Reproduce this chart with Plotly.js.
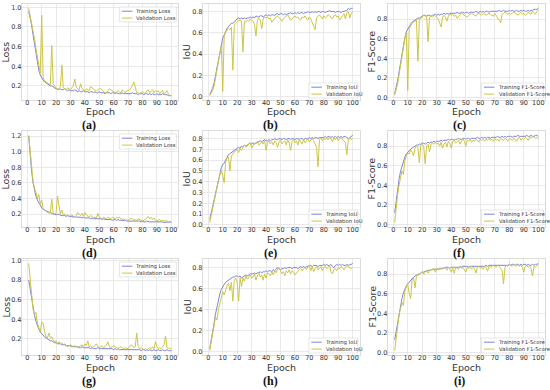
<!DOCTYPE html>
<html>
<head>
<meta charset="utf-8">
<script src="https://cdn.plot.ly/plotly-3.0.1.min.js"></script>
<style>html,body{margin:0;padding:0;background:#fff;}#chart{width:550px;height:390px;}</style>
</head>
<body>
<div id="chart"></div>
<script>
// ---------- DATA ----------
const epochs = Array.from({length: 100}, (_, i) => i + 1);
const xTicks = [0,10,20,30,40,50,60,70,80,90,100];
const panelLabels = ["(a)","(b)","(c)","(d)","(e)","(f)","(g)","(h)","(i)"];
const metricNames = ["Loss","IoU","F1-Score"];
const xTitle = "Epoch";

const lossA_train = [0.96,0.90,0.82,0.72,0.62,0.52,0.43,0.36,0.31,0.28,
 0.26,0.24,0.23,0.22,0.21,0.20,0.20,0.19,0.18,0.17,
 0.17,0.16,0.17,0.16,0.16,0.17,0.16,0.15,0.16,0.15,
 0.15,0.15,0.16,0.15,0.14,0.15,0.14,0.14,0.15,0.14,
 0.14,0.14,0.13,0.14,0.14,0.13,0.14,0.13,0.13,0.14,
 0.13,0.13,0.13,0.12,0.13,0.13,0.13,0.12,0.13,0.13,
 0.12,0.13,0.12,0.12,0.12,0.13,0.12,0.12,0.12,0.12,
 0.12,0.12,0.13,0.12,0.12,0.12,0.11,0.12,0.12,0.12,
 0.11,0.12,0.12,0.11,0.12,0.11,0.12,0.11,0.11,0.12,
 0.11,0.11,0.11,0.12,0.11,0.11,0.11,0.10,0.10,0.10];
const lossA_val = [0.99,0.92,0.85,0.78,0.68,0.58,0.48,0.40,0.33,0.92,
 0.28,0.25,0.24,0.23,0.22,0.21,0.61,0.22,0.20,0.18,
 0.16,0.17,0.19,0.41,0.18,0.17,0.16,0.18,0.17,0.16,
 0.18,0.20,0.27,0.19,0.17,0.16,0.22,0.17,0.16,0.15,
 0.17,0.16,0.15,0.19,0.18,0.17,0.15,0.15,0.16,0.17,
 0.17,0.16,0.14,0.13,0.13,0.15,0.17,0.16,0.15,0.14,
 0.13,0.14,0.15,0.14,0.13,0.16,0.14,0.13,0.15,0.15,
 0.16,0.18,0.20,0.24,0.18,0.13,0.13,0.12,0.13,0.14,
 0.13,0.12,0.15,0.16,0.13,0.14,0.16,0.13,0.15,0.14,
 0.15,0.12,0.14,0.15,0.11,0.13,0.15,0.12,0.10,0.10];

const iouB_train = [0.02,0.05,0.08,0.13,0.20,0.28,0.36,0.43,0.49,0.55,
 0.58,0.62,0.64,0.66,0.68,0.69,0.69,0.70,0.72,0.73,
 0.74,0.73,0.74,0.73,0.74,0.73,0.74,0.74,0.75,0.74,
 0.75,0.74,0.76,0.75,0.75,0.76,0.76,0.75,0.76,0.77,
 0.76,0.77,0.76,0.77,0.77,0.76,0.78,0.78,0.77,0.78,
 0.78,0.77,0.78,0.77,0.78,0.78,0.79,0.78,0.78,0.79,
 0.78,0.79,0.78,0.79,0.79,0.78,0.79,0.79,0.80,0.79,
 0.79,0.80,0.79,0.80,0.79,0.80,0.80,0.79,0.80,0.80,
 0.79,0.80,0.80,0.81,0.80,0.80,0.80,0.79,0.80,0.80,
 0.80,0.79,0.80,0.80,0.81,0.81,0.83,0.82,0.83,0.83];
const iouB_val = [0.01,0.03,0.06,0.10,0.18,0.26,0.34,0.41,0.48,0.05,
 0.57,0.61,0.63,0.64,0.63,0.65,0.25,0.67,0.69,0.71,
 0.72,0.72,0.71,0.42,0.71,0.70,0.72,0.71,0.73,0.72,
 0.71,0.68,0.57,0.72,0.74,0.72,0.64,0.73,0.75,0.74,
 0.75,0.73,0.74,0.70,0.72,0.74,0.75,0.76,0.74,0.72,
 0.71,0.73,0.75,0.76,0.77,0.74,0.72,0.73,0.75,0.76,
 0.74,0.75,0.73,0.72,0.75,0.74,0.76,0.73,0.72,0.75,
 0.73,0.70,0.66,0.63,0.74,0.76,0.77,0.75,0.73,0.76,
 0.74,0.75,0.77,0.76,0.74,0.73,0.76,0.77,0.75,0.76,
 0.72,0.74,0.76,0.78,0.73,0.79,0.80,0.74,0.78,0.80];

const f1C_train = [0.04,0.10,0.17,0.26,0.35,0.45,0.54,0.61,0.67,0.70,
 0.72,0.75,0.77,0.78,0.79,0.80,0.81,0.81,0.82,0.83,
 0.84,0.84,0.83,0.84,0.84,0.83,0.84,0.84,0.85,0.84,
 0.85,0.84,0.85,0.85,0.86,0.85,0.86,0.85,0.86,0.86,
 0.86,0.86,0.86,0.87,0.86,0.86,0.87,0.87,0.86,0.87,
 0.87,0.86,0.87,0.87,0.87,0.87,0.88,0.87,0.87,0.88,
 0.87,0.88,0.87,0.88,0.88,0.87,0.88,0.88,0.88,0.88,
 0.88,0.88,0.89,0.88,0.88,0.89,0.88,0.88,0.88,0.89,
 0.88,0.89,0.88,0.88,0.89,0.88,0.88,0.89,0.88,0.89,
 0.88,0.88,0.89,0.88,0.89,0.89,0.90,0.90,0.90,0.91];
const f1C_val = [0.02,0.07,0.14,0.23,0.33,0.43,0.52,0.60,0.66,0.07,
 0.70,0.74,0.76,0.77,0.78,0.79,0.37,0.80,0.81,0.82,
 0.84,0.83,0.83,0.57,0.82,0.83,0.82,0.84,0.83,0.82,
 0.80,0.76,0.72,0.82,0.84,0.82,0.78,0.83,0.85,0.84,
 0.85,0.83,0.84,0.81,0.83,0.84,0.86,0.85,0.84,0.83,
 0.82,0.84,0.85,0.86,0.85,0.84,0.83,0.85,0.86,0.85,
 0.84,0.86,0.85,0.84,0.85,0.86,0.85,0.84,0.83,0.86,
 0.84,0.82,0.79,0.76,0.85,0.86,0.87,0.86,0.85,0.86,
 0.85,0.86,0.87,0.86,0.85,0.84,0.86,0.87,0.85,0.86,
 0.84,0.85,0.87,0.86,0.85,0.88,0.87,0.85,0.88,0.89];

const lossD_train = [1.20,0.95,0.75,0.60,0.50,0.43,0.38,0.34,0.31,0.28,
 0.26,0.25,0.24,0.23,0.22,0.21,0.21,0.20,0.20,0.19,
 0.20,0.19,0.19,0.18,0.18,0.18,0.17,0.18,0.17,0.17,
 0.17,0.16,0.17,0.16,0.16,0.16,0.16,0.15,0.16,0.15,
 0.15,0.15,0.15,0.14,0.15,0.14,0.14,0.14,0.14,0.14,
 0.14,0.13,0.14,0.13,0.13,0.13,0.13,0.13,0.12,0.13,
 0.13,0.12,0.13,0.12,0.12,0.12,0.12,0.12,0.11,0.11,
 0.11,0.11,0.11,0.11,0.11,0.11,0.11,0.11,0.10,0.11,
 0.10,0.10,0.11,0.10,0.10,0.10,0.10,0.10,0.10,0.10,
 0.10,0.10,0.10,0.10,0.09,0.10,0.10,0.09,0.10,0.09];
const lossD_val = [1.21,0.98,0.78,0.62,0.53,0.48,0.40,0.45,0.33,0.38,
 0.27,0.25,0.24,0.22,0.21,0.22,0.39,0.21,0.20,0.22,
 0.43,0.28,0.20,0.25,0.19,0.20,0.18,0.19,0.17,0.18,
 0.19,0.17,0.16,0.18,0.22,0.20,0.18,0.21,0.17,0.22,
 0.19,0.17,0.16,0.18,0.17,0.15,0.16,0.15,0.21,0.16,
 0.15,0.14,0.16,0.15,0.14,0.16,0.15,0.14,0.16,0.15,
 0.14,0.16,0.15,0.16,0.14,0.13,0.14,0.12,0.13,0.12,
 0.13,0.15,0.14,0.12,0.13,0.12,0.14,0.13,0.12,0.11,
 0.12,0.13,0.15,0.17,0.14,0.16,0.13,0.15,0.12,0.11,
 0.12,0.13,0.11,0.12,0.11,0.12,0.11,0.10,0.11,0.10];

const iouE_train = [0.05,0.11,0.17,0.24,0.31,0.38,0.44,0.49,0.53,0.56,
 0.57,0.60,0.63,0.65,0.66,0.67,0.68,0.69,0.70,0.71,
 0.72,0.71,0.73,0.72,0.74,0.73,0.74,0.75,0.76,0.75,
 0.76,0.75,0.76,0.77,0.77,0.78,0.77,0.78,0.79,0.78,
 0.78,0.79,0.78,0.79,0.79,0.80,0.79,0.79,0.80,0.80,
 0.79,0.80,0.80,0.79,0.80,0.80,0.79,0.80,0.80,0.79,
 0.80,0.80,0.79,0.80,0.80,0.79,0.80,0.80,0.80,0.81,
 0.80,0.81,0.80,0.81,0.81,0.80,0.81,0.81,0.81,0.81,
 0.82,0.81,0.82,0.82,0.81,0.82,0.81,0.82,0.81,0.82,
 0.81,0.82,0.81,0.82,0.82,0.81,0.80,0.81,0.82,0.83];
const iouE_val = [0.02,0.09,0.16,0.23,0.29,0.36,0.41,0.46,0.50,0.46,
 0.39,0.58,0.62,0.63,0.50,0.64,0.66,0.67,0.69,0.70,
 0.67,0.71,0.69,0.72,0.74,0.72,0.73,0.75,0.76,0.71,
 0.74,0.76,0.75,0.77,0.74,0.76,0.77,0.75,0.78,0.69,
 0.76,0.78,0.75,0.77,0.74,0.78,0.76,0.72,0.77,0.79,
 0.75,0.77,0.78,0.74,0.79,0.76,0.69,0.77,0.79,0.76,
 0.78,0.74,0.79,0.77,0.75,0.79,0.76,0.78,0.80,0.77,
 0.79,0.80,0.78,0.74,0.72,0.54,0.79,0.81,0.78,0.80,
 0.79,0.81,0.79,0.82,0.80,0.77,0.81,0.79,0.81,0.78,
 0.80,0.81,0.79,0.78,0.76,0.65,0.79,0.81,0.79,0.80];

const f1F_train = [0.12,0.25,0.36,0.46,0.54,0.60,0.65,0.69,0.72,0.74,
 0.76,0.77,0.78,0.79,0.80,0.81,0.81,0.82,0.82,0.83,
 0.83,0.82,0.83,0.84,0.83,0.84,0.84,0.85,0.84,0.85,
 0.85,0.85,0.86,0.85,0.86,0.86,0.86,0.87,0.86,0.87,
 0.87,0.86,0.87,0.87,0.88,0.87,0.87,0.88,0.88,0.87,
 0.88,0.88,0.87,0.88,0.88,0.88,0.88,0.89,0.88,0.88,
 0.89,0.88,0.89,0.88,0.89,0.89,0.88,0.89,0.89,0.89,
 0.89,0.90,0.89,0.89,0.90,0.89,0.90,0.89,0.90,0.90,
 0.90,0.89,0.90,0.90,0.90,0.91,0.90,0.90,0.90,0.90,
 0.90,0.91,0.90,0.90,0.91,0.90,0.90,0.91,0.91,0.90];
const f1F_val = [0.02,0.18,0.30,0.40,0.47,0.55,0.51,0.65,0.70,0.73,
 0.72,0.76,0.74,0.70,0.78,0.80,0.79,0.63,0.81,0.82,
 0.80,0.62,0.80,0.82,0.74,0.82,0.83,0.82,0.84,0.82,
 0.83,0.80,0.84,0.78,0.82,0.84,0.79,0.85,0.83,0.78,
 0.85,0.86,0.83,0.85,0.86,0.82,0.86,0.88,0.85,0.80,
 0.86,0.85,0.87,0.84,0.86,0.85,0.87,0.86,0.84,0.87,
 0.86,0.87,0.85,0.87,0.86,0.88,0.86,0.87,0.85,0.88,
 0.86,0.87,0.85,0.88,0.87,0.86,0.88,0.87,0.85,0.88,
 0.87,0.86,0.88,0.87,0.85,0.88,0.89,0.86,0.88,0.87,
 0.89,0.88,0.86,0.89,0.88,0.90,0.89,0.88,0.89,0.87];

const lossG_train = [0.80,0.70,0.60,0.52,0.44,0.38,0.33,0.30,0.27,0.25,
 0.24,0.22,0.21,0.20,0.19,0.18,0.18,0.17,0.16,0.16,
 0.15,0.15,0.15,0.14,0.14,0.14,0.13,0.13,0.13,0.13,
 0.12,0.12,0.12,0.12,0.12,0.11,0.11,0.12,0.11,0.11,
 0.11,0.11,0.11,0.10,0.11,0.10,0.10,0.10,0.11,0.10,
 0.10,0.10,0.10,0.10,0.10,0.10,0.10,0.10,0.10,0.09,
 0.10,0.09,0.10,0.09,0.09,0.09,0.09,0.09,0.09,0.09,
 0.09,0.09,0.09,0.09,0.09,0.09,0.09,0.09,0.08,0.09,
 0.09,0.08,0.09,0.08,0.09,0.08,0.08,0.09,0.08,0.08,
 0.09,0.08,0.08,0.09,0.08,0.08,0.09,0.08,0.08,0.08];
const lossG_val = [0.97,0.80,0.64,0.50,0.45,0.47,0.36,0.32,0.27,0.37,
 0.36,0.27,0.22,0.21,0.26,0.21,0.22,0.19,0.17,0.18,
 0.15,0.17,0.15,0.16,0.14,0.15,0.13,0.12,0.13,0.14,
 0.13,0.12,0.13,0.12,0.11,0.12,0.13,0.14,0.12,0.15,
 0.13,0.18,0.12,0.13,0.11,0.12,0.13,0.15,0.12,0.11,
 0.12,0.13,0.11,0.12,0.14,0.17,0.12,0.11,0.12,0.13,
 0.12,0.11,0.10,0.11,0.12,0.11,0.10,0.11,0.10,0.10,
 0.12,0.14,0.13,0.11,0.12,0.26,0.12,0.10,0.11,0.10,
 0.09,0.10,0.09,0.10,0.11,0.10,0.12,0.10,0.17,0.12,
 0.10,0.11,0.10,0.12,0.14,0.23,0.11,0.10,0.11,0.09];

const iouH_train = [0.03,0.10,0.18,0.27,0.36,0.43,0.50,0.55,0.59,0.62,
 0.64,0.66,0.67,0.68,0.69,0.70,0.71,0.71,0.72,0.72,
 0.71,0.72,0.70,0.71,0.72,0.73,0.72,0.73,0.74,0.74,
 0.74,0.75,0.74,0.75,0.75,0.76,0.75,0.76,0.76,0.77,
 0.76,0.77,0.77,0.76,0.78,0.77,0.79,0.80,0.79,0.78,
 0.79,0.79,0.80,0.79,0.80,0.80,0.80,0.79,0.80,0.80,
 0.80,0.79,0.80,0.81,0.80,0.81,0.80,0.81,0.81,0.82,
 0.82,0.81,0.82,0.82,0.82,0.81,0.82,0.82,0.82,0.83,
 0.82,0.83,0.82,0.82,0.83,0.81,0.80,0.82,0.83,0.82,
 0.83,0.82,0.83,0.82,0.82,0.83,0.82,0.83,0.83,0.84];
const iouH_val = [0.01,0.08,0.16,0.25,0.33,0.30,0.40,0.46,0.52,0.57,
 0.54,0.60,0.63,0.65,0.58,0.66,0.48,0.68,0.70,0.66,
 0.48,0.70,0.62,0.70,0.67,0.72,0.69,0.71,0.73,0.70,
 0.71,0.74,0.68,0.72,0.75,0.71,0.73,0.68,0.74,0.70,
 0.75,0.74,0.72,0.76,0.73,0.77,0.75,0.79,0.80,0.77,
 0.74,0.76,0.72,0.77,0.75,0.78,0.74,0.77,0.76,0.73,
 0.75,0.76,0.78,0.79,0.77,0.79,0.80,0.78,0.81,0.82,
 0.77,0.81,0.76,0.79,0.81,0.78,0.80,0.81,0.77,0.80,
 0.81,0.79,0.80,0.82,0.76,0.74,0.78,0.79,0.77,0.80,
 0.79,0.81,0.80,0.78,0.80,0.82,0.81,0.80,0.79,0.80];

const f1I_train = [0.13,0.22,0.31,0.40,0.48,0.55,0.61,0.65,0.68,0.70,
 0.72,0.73,0.75,0.77,0.78,0.79,0.80,0.80,0.81,0.82,
 0.82,0.83,0.83,0.84,0.84,0.84,0.85,0.85,0.85,0.85,
 0.85,0.86,0.86,0.86,0.86,0.87,0.87,0.87,0.86,0.87,
 0.87,0.87,0.87,0.87,0.87,0.88,0.87,0.88,0.88,0.88,
 0.88,0.87,0.88,0.88,0.88,0.88,0.88,0.88,0.88,0.88,
 0.88,0.88,0.88,0.89,0.88,0.89,0.89,0.89,0.89,0.89,
 0.89,0.89,0.89,0.89,0.89,0.89,0.89,0.89,0.89,0.90,
 0.89,0.90,0.90,0.89,0.90,0.90,0.89,0.90,0.89,0.90,
 0.90,0.89,0.90,0.89,0.89,0.90,0.89,0.90,0.90,0.91];
const f1I_val = [0.02,0.15,0.27,0.38,0.45,0.51,0.48,0.62,0.67,0.70,
 0.60,0.55,0.74,0.76,0.66,0.78,0.79,0.80,0.81,0.83,
 0.80,0.82,0.84,0.81,0.83,0.85,0.84,0.86,0.82,0.85,
 0.86,0.84,0.86,0.85,0.87,0.86,0.84,0.87,0.85,0.82,
 0.86,0.81,0.87,0.86,0.85,0.88,0.86,0.87,0.84,0.82,
 0.87,0.86,0.88,0.85,0.87,0.86,0.81,0.87,0.88,0.86,
 0.87,0.85,0.88,0.87,0.83,0.88,0.87,0.88,0.89,0.88,
 0.87,0.89,0.88,0.86,0.84,0.70,0.87,0.89,0.88,0.90,
 0.89,0.88,0.90,0.89,0.88,0.90,0.88,0.89,0.87,0.82,
 0.88,0.89,0.87,0.88,0.86,0.78,0.88,0.87,0.89,0.90];

// ---------- PANEL SETUP ----------
const panels = [
  {train: lossA_train, val: lossA_val, metric: 0, dtick: 0.2, legendTop: true},
  {train: iouB_train,  val: iouB_val,  metric: 1, dtick: 0.2, legendTop: false},
  {train: f1C_train,   val: f1C_val,   metric: 2, dtick: 0.2, legendTop: false},
  {train: lossD_train, val: lossD_val, metric: 0, dtick: 0.2, legendTop: true},
  {train: iouE_train,  val: iouE_val,  metric: 1, dtick: 0.1, legendTop: false},
  {train: f1F_train,   val: f1F_val,   metric: 2, dtick: 0.2, legendTop: false},
  {train: lossG_train, val: lossG_val, metric: 0, dtick: 0.2, legendTop: true},
  {train: iouH_train,  val: iouH_val,  metric: 1, dtick: 0.2, legendTop: false},
  {train: f1I_train,   val: f1I_val,   metric: 2, dtick: 0.2, legendTop: false}
];

const W = 550, H = 390;
const cols = [[21.6,178.4],[202.6,359.8],[387.5,545.5]];
const rows = [[4,100],[131,227],[259,355]];
const labelX = [89, 270, 459];
const labelY = [125.5, 252.5, 381];
const legendW = [57, 49, 62];
const trainColor = '#7c84d6';
const valColor = '#cdc547';
const gridColor = '#e4e4e4';
const frameColor = '#d2d2d2';
const txtColor = '#333333';
const FONT = 'DejaVu Sans, sans-serif';

const px = p => p / W;
const py = p => 1 - p / H;

const traces = [];
const layout = {
  width: W, height: H,
  margin: {l: 0, r: 0, t: 0, b: 0},
  paper_bgcolor: '#ffffff', plot_bgcolor: '#ffffff',
  showlegend: false,
  font: {family: FONT, color: txtColor},
  shapes: [], annotations: []
};

panels.forEach((p, i) => {
  const r = Math.floor(i / 3), c = i % 3;
  const n = i === 0 ? '' : String(i + 1);
  const xa = 'x' + n, ya = 'y' + n;
  const all = p.train.concat(p.val);
  const mn = Math.min(...all), mx = Math.max(...all);
  const pad = (mx - mn) * 0.05;
  const name = metricNames[p.metric];

  traces.push({x: epochs, y: p.train, type: 'scatter', mode: 'lines', xaxis: xa, yaxis: ya,
    line: {color: trainColor, width: 1}, name: 'Training ' + name});
  traces.push({x: epochs, y: p.val, type: 'scatter', mode: 'lines', xaxis: xa, yaxis: ya,
    line: {color: valColor, width: 1}, name: 'Validation ' + name});

  const [x0, x1] = cols[c], [y0, y1] = rows[r];
  layout['xaxis' + n] = {
    domain: [px(x0), px(x1)], anchor: ya, range: [-3.95, 104.95],
    tickvals: xTicks, ticks: '', ticklabelstandoff: -4,
    showgrid: true, gridcolor: gridColor, gridwidth: 0.8,
    zeroline: false, showline: true, mirror: true, linecolor: frameColor, linewidth: 0.8,
    tickfont: {size: 6.5, color: txtColor, family: FONT}
  };
  const ticks = [];
  for (let t = 0; t <= 1.3; t += p.dtick) ticks.push(Math.round(t * 10) / 10);
  layout['yaxis' + n] = {
    domain: [py(y1), py(y0)], anchor: xa, range: [mn - pad, mx + pad],
    tickvals: ticks, tickformat: '.1f', ticks: '', ticklabelstandoff: -2,
    showgrid: true, gridcolor: gridColor, gridwidth: 0.8,
    zeroline: false, showline: true, mirror: true, linecolor: frameColor, linewidth: 0.8,
    tickfont: {size: 6.5, color: txtColor, family: FONT}
  };

  // axis titles as annotations for precise placement
  layout.annotations.push({xref: 'paper', yref: 'paper', x: px((x0 + x1) / 2), y: py(y1 + 12),
    xanchor: 'center', yanchor: 'middle', showarrow: false, text: xTitle, borderpad: 0,
    font: {size: 9.5, color: txtColor, family: FONT}});
  layout.annotations.push({xref: 'paper', yref: 'paper', x: px(x0 - 16), y: py((y0 + y1) / 2),
    xanchor: 'center', yanchor: 'middle', showarrow: false, text: name, textangle: -90, borderpad: 0,
    font: {size: 9.5, color: txtColor, family: FONT}});

  // legend box drawn with shapes + a two-line text
  const lw = legendW[p.metric], lh = 15;
  const bx1 = x1 - 2, bx0 = bx1 - lw;
  const by0 = p.legendTop ? y0 + 3 : y1 - 2 - lh, by1 = by0 + lh;
  layout.shapes.push({type: 'rect', xref: 'paper', yref: 'paper',
    x0: px(bx0), x1: px(bx1), y0: py(by1), y1: py(by0),
    fillcolor: 'rgba(255,255,255,0.85)', line: {color: '#dddddd', width: 0.7}});
  [[trainColor, 4.2], [valColor, 11.1]].forEach(([col, dy]) => {
    layout.shapes.push({type: 'line', xref: 'paper', yref: 'paper',
      x0: px(bx0 + 2.5), x1: px(bx0 + 13), y0: py(by0 + dy), y1: py(by0 + dy),
      line: {color: col, width: 1}});
  });
  layout.annotations.push({xref: 'paper', yref: 'paper', x: px(bx0 + 15), y: py(by0 + 7.6),
    xanchor: 'left', yanchor: 'middle', align: 'left', showarrow: false, borderpad: 0,
    text: 'Training ' + name + '<br>Validation ' + name,
    font: {size: 5.3, color: txtColor, family: FONT}});

  layout.annotations.push({xref: 'paper', yref: 'paper', x: px(labelX[c]), y: py(labelY[r]),
    xanchor: 'center', yanchor: 'middle', showarrow: false, text: '<b>' + panelLabels[i] + '</b>', borderpad: 0,
    font: {size: 12, color: '#111111', family: 'Liberation Serif, Times New Roman, serif'}});
});

Plotly.newPlot('chart', traces, layout, {staticPlot: true, displayModeBar: false});
</script>
</body>
</html>
